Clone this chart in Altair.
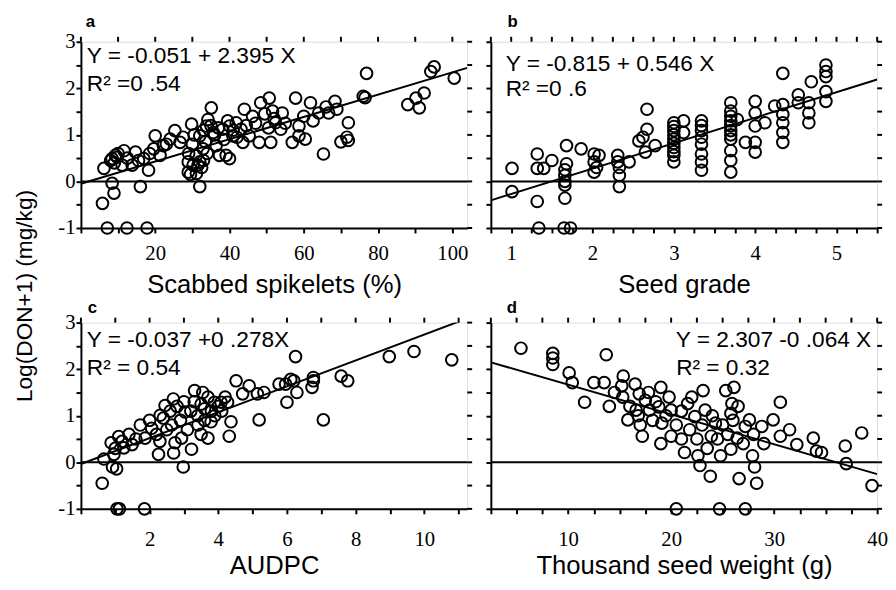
import altair as alt
import pandas as pd

FONT = "Liberation Sans"
NARROW = "Liberation Sans Narrow"

# ---------------- data ----------------
a_pts = [(5.8,-0.47),(6.2,0.28),(7.1,-1),(12.4,-1),(17.8,-1),(8.4,-0.04),(8.9,-0.25),(8.4,0.49),(9.3,0.56),(9.8,0.52),
         (11.6,0.66),(11.1,0.35),(14.7,0.63),(16.0,-0.11),(13.8,0.35),(16.9,0.49),(18.2,0.24),(19.6,0.70),(20.0,0.98),(21.3,0.56),
         (22.2,0.77),(24.0,0.91),(25.3,1.09),(26.7,0.84),(29.8,1.23),(28.9,0.42),(28.9,0.20),(30.2,0.35),(32.0,-0.11),(31.1,0.17),
         (32.0,0.42),(32.9,0.70),(32.0,0.98),(33.8,1.19),(35.1,1.58),(34.2,1.33),(35.6,1.05),(36.4,0.77),(37.3,0.56),(39.1,0.56),
         (40.0,0.49),(38.2,1.12),(40.0,1.19),(41.8,1.26),(40.9,0.98),(43.1,1.12),(43.6,0.84),(44.0,1.55),(46.2,1.40),(45.3,0.98),
         (48.0,0.84),(48.4,1.69),(50.7,1.79),(51.6,1.51),(52.4,1.26),(51.1,0.84),(53.8,1.12),(54.2,1.47),(56.9,0.84),(57.8,1.79),
         (58.7,1.19),(58.7,0.98),(60.4,0.91),(61.8,1.69),(64.0,1.47),(65.3,0.59),(66.7,1.47),(68.4,1.72),(68.9,1.55),(72.0,1.26),
         (71.6,0.95),(72.0,0.88),(76.0,1.83),(76.5,1.80),(76.9,2.32),(88.0,1.65),(90.2,1.79),(91.1,1.58),(92.4,1.90),(94.2,2.36),
         (95.1,2.46),(100.5,2.22),(9.0,0.40),(10.0,0.60),(8.0,0.45),(12.5,0.50),(15.5,0.45),(18.5,0.60),(23.0,0.80),(27.5,0.95),
         (29.0,0.60),(30.0,0.80),(30.5,1.00),(31.0,0.55),(32.5,0.30),(33.0,1.10),(33.5,0.85),(34.0,0.60),(35.0,1.20),(36.0,1.00),
         (37.0,1.15),(38.5,0.90),(39.5,1.30),(41.0,1.10),(42.0,0.95),(44.5,1.20),(47.0,1.25),(49.5,1.45),(50.5,1.15),(52.0,1.35),
         (55.0,1.25),(60.0,1.40),(62.5,1.30),(70.0,0.85),(66.0,1.60),(29.5,0.15),(31.5,0.35),(33.0,0.45)]

b_pts = [(1.01,0.28),(1.01,-0.22),(1.32,0.59),(1.32,0.28),(1.40,0.28),(1.50,0.45),(1.32,-0.43),(1.34,-1),(1.65,-1),(1.73,-1),
         (1.68,0.77),(1.68,0.38),(1.66,0.13),(1.66,-0.08),(1.66,-0.36),(1.66,0.0),(1.66,0.25),(1.86,0.70),(2.02,0.59),(2.02,0.42),
         (2.02,0.20),(2.08,0.56),(2.05,0.30),(2.31,0.56),(2.31,0.42),(2.33,0.13),(2.33,-0.11),(2.33,0.30),(2.45,0.42),(2.57,0.87),
         (2.67,1.55),(2.67,1.12),(2.65,0.63),(2.77,0.77),(2.62,0.95),(3.0,1.26),(3.0,1.09),(3.0,0.91),(3.0,0.73),(3.0,0.56),
         (3.0,0.42),(3.0,1.18),(3.0,1.0),(3.0,0.82),(3.0,0.64),(3.12,1.30),(3.12,1.05),(3.34,1.30),(3.34,1.09),(3.34,0.80),
         (3.34,0.59),(3.34,0.42),(3.34,0.24),(3.34,1.2),(3.34,0.95),(3.70,1.69),(3.70,1.51),(3.70,1.30),(3.70,1.09),(3.70,0.91),
         (3.70,0.66),(3.70,0.45),(3.70,0.20),(3.70,1.4),(3.70,1.2),(3.70,1.0),(3.78,1.33),(3.88,0.84),(4.0,1.72),(4.0,1.47),
         (4.0,1.19),(4.0,0.84),(4.0,0.63),(4.12,1.26),(4.24,1.62),(4.34,2.32),(4.34,1.65),(4.34,1.44),(4.34,1.26),(4.34,1.05),
         (4.34,0.84),(4.53,1.86),(4.53,1.69),(4.69,2.14),(4.66,1.69),(4.66,1.47),(4.66,1.26),(4.87,2.50),(4.87,2.36),(4.87,2.25),
         (4.87,1.93),(4.87,1.72)]

c_pts = [(0.67,0.07),(0.92,-0.10),(1.04,-0.14),(0.88,0.42),(0.96,0.17),(1.25,0.31),(1.49,0.38),(1.73,0.80),(1.87,0.52),(2.06,0.73),
         (2.26,0.17),(2.31,1.01),(2.45,1.22),(2.64,0.80),(2.69,1.36),(2.74,0.42),(2.93,0.52),(2.98,-0.10),(3.03,1.08),(3.22,0.28),
         (3.31,1.54),(3.41,0.80),(3.55,1.50),(3.60,1.15),(3.70,0.52),(3.79,0.87),(3.89,1.29),(4.08,1.29),(4.27,1.29),(4.37,0.87),
         (4.32,0.56),(4.52,1.75),(4.71,1.47),(4.90,1.64),(5.14,1.47),(5.19,0.91),(5.33,1.50),(5.77,1.68),(5.96,1.68),(6.00,1.29),
         (6.11,1.78),(6.20,1.75),(6.25,2.27),(6.29,1.50),(6.73,1.61),(6.77,1.82),(6.77,1.75),(7.06,0.91),(7.58,1.85),(7.77,1.75),
         (8.98,2.27),(9.70,2.38),(10.8,2.2),(1.05,-1),(1.12,-1),(1.85,-1),(0.62,-0.45),(1.0,0.3),(1.2,0.45),(1.1,0.55),
         (1.4,0.6),(1.6,0.5),(2.0,0.9),(2.2,0.6),(2.4,0.95),(2.5,0.7),(2.6,1.1),(2.8,1.2),(2.9,0.9),(3.0,1.3),
         (3.1,0.7),(3.2,1.1),(3.3,1.3),(3.4,1.0),(3.5,1.25),(3.6,0.9),(3.7,1.4),(3.8,1.1),(3.9,1.0),(4.0,1.2),
         (4.1,1.1),(4.2,1.4),(2.7,0.2),(2.3,0.45),(3.5,0.6)]

d_pts = [(5.42,2.45),(8.51,2.34),(8.51,2.24),(8.51,2.10),(10.1,1.92),(10.4,1.71),(11.6,1.29),(12.5,1.71),(13.5,1.71),(13.7,2.31),
         (15.35,1.85),(15.2,1.64),(16.5,1.68),(15.8,0.91),(15.3,1.40),(16.9,1.47),(16.6,1.12),(17.2,0.56),(17.9,1.12),(17.5,1.33),
         (19.0,1.61),(18.8,1.19),(19.1,0.84),(20.0,1.12),(20.0,0.56),(21.3,0.21),(21.6,1.26),(22.3,0.98),(22.6,0.14),(22.8,-0.07),
         (23.1,1.54),(23.3,1.12),(23.9,0.56),(24.3,0.84),(24.8,0.14),(25.3,1.54),(26.1,1.61),(25.9,1.26),(25.8,1.05),(25.8,0.28),
         (26.4,0.52),(27.2,0.77),(27.6,0.91),(27.9,0.14),(28.1,-0.10),(28.8,0.77),(29.9,0.91),(30.6,1.29),(30.6,0.56),(31.5,0.70),
         (32.2,0.38),(33.8,0.52),(34.1,0.24),(34.6,0.21),(36.9,0.35),(37.0,-0.03),(38.5,0.63),(39.5,-0.5),(20.5,-1),(24.7,-1),
         (27.2,-1),(23.8,-0.3),(26.6,-0.35),(28.3,-0.45),(16.0,1.2),(16.8,1.0),(17.0,0.8),(17.8,1.5),(18.2,0.9),(18.5,1.3),
         (19.5,1.0),(19.8,1.4),(20.5,0.8),(21.0,1.1),(21.8,0.7),(22.0,1.4),(22.5,0.5),(23.0,0.8),(23.5,0.3),(24.0,1.0),
         (24.5,0.5),(25.0,0.8),(25.5,0.6),(26.0,0.9),(26.5,1.2),(27.0,0.4),(28.0,0.6),(29.0,0.4),(14.5,1.5),(14.0,1.2),
         (19.0,0.4),(21.0,0.5)]

a_ticks = [0, 10, 20, 30, 40, 50, 60, 70, 80, 90, 100]
b_ticks = [0.75, 1, 1.25, 1.5, 1.75, 2, 2.25, 2.5, 2.75, 3, 3.25, 3.5, 3.75, 4, 4.25, 4.5, 4.75, 5, 5.25, 5.5]
c_ticks = [0, 1, 2, 3, 4, 5, 6, 7, 8, 9, 10, 11]
d_ticks = [2.5, 5, 7.5, 10, 12.5, 15, 17.5, 20, 22.5, 25, 27.5, 30, 32.5, 35, 37.5, 40]
y_ticks = [-1, -0.5, 0, 0.5, 1, 1.5, 2, 2.5, 3]

# regression: intercept, slope per x unit (panel a: X as fraction of 1)
a_fit = (-0.051, 2.395 / 100)
b_fit = (-0.815, 0.546)
c_fit = (-0.037, 0.278)
d_fit = (2.307, -0.064)

W, H = 392, 189
BLACK = "black"


def panel(pts, dom, ticks, lab_expr, xtitle, fit, eq, r2, eq_pos, r2_pos, letter, letter_dx, ylabels,
          lab_pad, title_pad, letter_off):
    df = pd.DataFrame(pts, columns=["x", "y"])
    xs = alt.Scale(domain=dom, nice=False, zero=False)
    ys = alt.Scale(domain=[-1, 3], nice=False, zero=False)
    common = dict(domainColor=BLACK, domainWidth=2, tickColor=BLACK, tickWidth=2, tickSize=5,
                  grid=False, labelColor=BLACK, labelFont=NARROW, labelFontSize=21,
                  labelFlush=False, labelOverlap=False)
    xb = alt.Axis(orient="bottom", values=ticks, labelExpr=lab_expr, title=xtitle,
                  titleFont=FONT, titleFontSize=26, titleFontWeight="normal", titleColor=BLACK,
                  titlePadding=title_pad, labelPadding=lab_pad, **common)
    yl_expr = "datum.value % 1 == 0 ? '' + datum.value : ''" if ylabels else "''"
    yl = alt.Axis(orient="left", values=y_ticks, labelExpr=yl_expr, title=None, labelPadding=1, **common)

    X = lambda f: alt.X(f, scale=xs, axis=xb)
    Y = lambda f: alt.Y(f, scale=ys, axis=yl)

    pts_layer = alt.Chart(df).mark_point(shape="circle", filled=False, color=BLACK,
                                         size=140, strokeWidth=2, opacity=1).encode(
        x=X("x:Q"), y=Y("y:Q"))
    top_ticks = alt.Chart(pd.DataFrame({"x": ticks})).mark_rule(color=BLACK, strokeWidth=2).encode(
        x=X("x:Q"), y=alt.value(-5), y2=alt.value(0))
    right_ticks = alt.Chart(pd.DataFrame({"y": y_ticks})).mark_rule(color=BLACK, strokeWidth=2).encode(
        y=Y("y:Q"), x=alt.value(W), x2=alt.value(W + 5))
    ldf = pd.DataFrame({"x": dom})
    line = alt.Chart(ldf).transform_calculate(
        y=f"{fit[0]} + {fit[1]} * datum.x").mark_line(color=BLACK, strokeWidth=2, clip=True).encode(
        x=X("x:Q"), y=Y("y:Q"))
    zero = alt.Chart(pd.DataFrame({"y": [0]})).mark_rule(color=BLACK, strokeWidth=2).encode(
        y=Y("y:Q"))
    t_eq = alt.Chart(pd.DataFrame({"t": [eq]})).mark_text(
        align=eq_pos[2], baseline="middle", font=FONT, fontSize=23, color=BLACK).encode(
        x=alt.value(eq_pos[0]), y=alt.value(eq_pos[1]), text="t:N")
    t_r2 = alt.Chart(pd.DataFrame({"t": [r2]})).mark_text(
        align="left", baseline="middle", font=FONT, fontSize=23, color=BLACK).encode(
        x=alt.value(r2_pos[0]), y=alt.value(r2_pos[1]), text="t:N")
    return alt.layer(zero, line, pts_layer, top_ticks, right_ticks, t_eq, t_r2).properties(
        width=W, height=H,
        title=alt.TitleParams(letter, anchor="start", frame="group", font=FONT, fontSize=17,
                              fontWeight="bold", color=BLACK, dx=letter_dx, offset=letter_off))


pa = panel(a_pts, [0, 104], a_ticks, "datum.value % 20 == 0 && datum.value > 0 ? '' + datum.value : ''",
           "Scabbed spikelets (%)", a_fit, "Y = -0.051 + 2.395 X", "R² =0 .54", (6, 15, "left"), (6, 43),
           "a", 5, True, 10, 8, 0)
pb = panel(b_pts, [0.75, 5.5], b_ticks, "datum.value % 1 == 0 ? '' + datum.value : ''",
           "Seed grade", b_fit, "Y = -0.815 + 0.546 X", "R² =0 .6", (15, 23, "left"), (15, 48),
           "b", 17, False, 10, 8, 0)
pc = panel(c_pts, [0, 11.25], c_ticks, "datum.value % 2 == 0 && datum.value > 0 ? '' + datum.value : ''",
           "AUDPC", c_fit, "Y = -0.037 +0 .278X", "R² = 0.54", (6, 18, "left"), (6, 46),
           "c", 7, True, 15, 4, -5)
pd_ = panel(d_pts, [2.5, 40], d_ticks, "datum.value % 10 == 0 ? '' + datum.value : ''",
            "Thousand seed weight (g)", d_fit, "Y = 2.307 -0 .064 X", "R² = 0.32", (386, 18, "right"), (188, 46),
            "d", 16, False, 15, 4, -5)

chart = alt.vconcat(
    alt.hconcat(pa, pb, spacing=10),
    alt.hconcat(pc, pd_, spacing=10),
    spacing=0,
).properties(
    padding={"left": 6, "top": 0, "right": 0, "bottom": 0},
    title=alt.TitleParams("Log(DON+1) (mg/kg)", orient="left", anchor="middle", font=FONT,
                          fontSize=23, fontWeight="normal", color=BLACK, offset=21)
).configure_view(stroke=BLACK, strokeWidth=2).configure(background="white")

chart.save("out.html", embed_options={"renderer": "svg", "actions": False})
